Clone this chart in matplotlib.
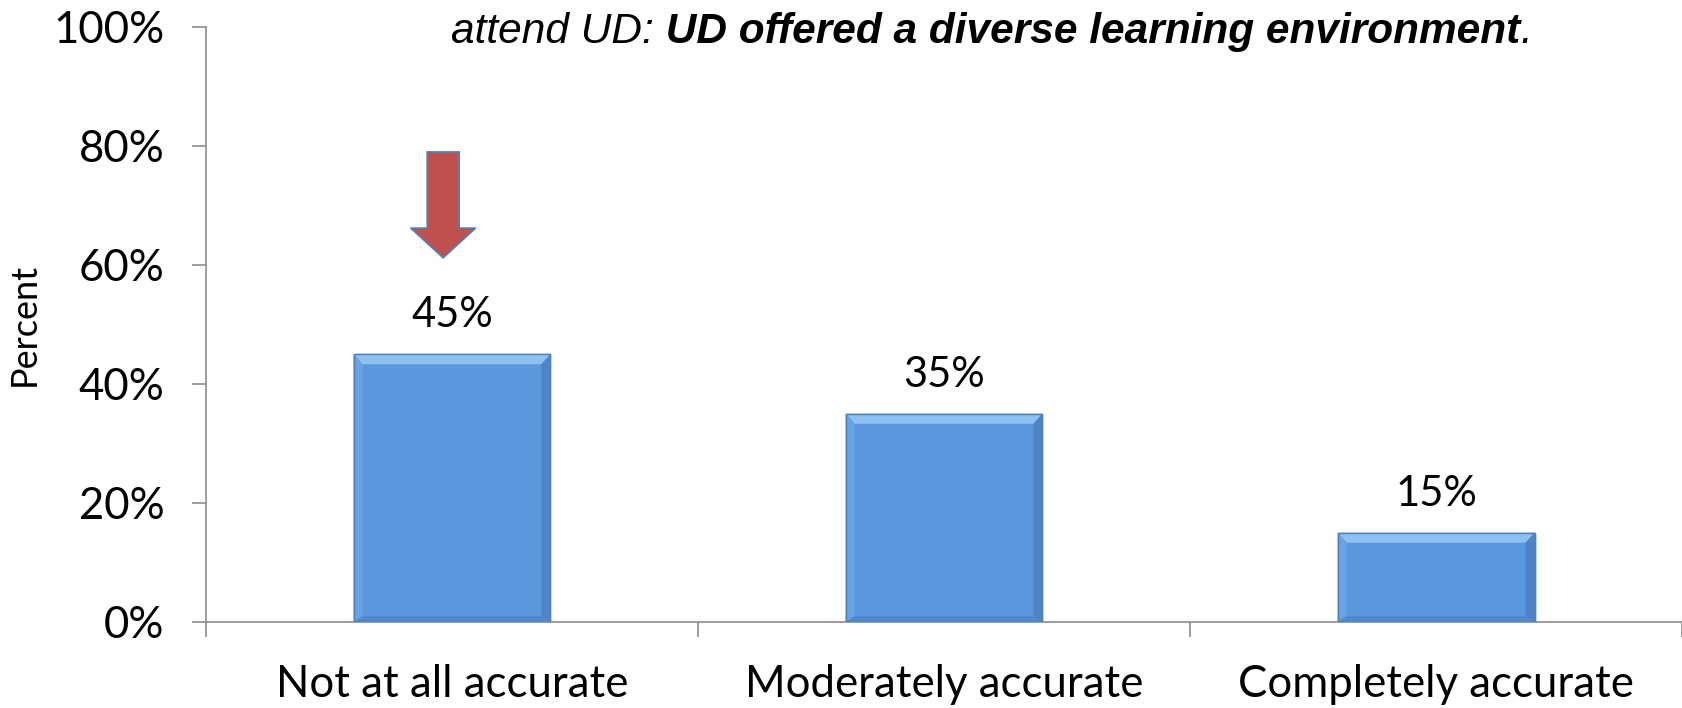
import matplotlib
matplotlib.use("Agg")
import matplotlib.pyplot as plt
from matplotlib.patches import FancyArrow, Polygon
from matplotlib.ticker import FixedLocator, PercentFormatter

categories = ["Not at all accurate", "Moderately accurate", "Completely accurate"]
percents = [45, 35, 15]
y_ticks = [0, 20, 40, 60, 80, 100]

TICK_FONT = "Lato"
BAR_COLOR = "#5B97DC"
AXIS_GRAY = "#8C8C8C"

fig = plt.figure(figsize=(16.83, 7.08), dpi=100)
ax = fig.add_axes([0.1224, 0.1215, 0.8771, 0.8404])

x = list(range(len(categories)))
bars = ax.bar(x, percents, width=0.40, color=BAR_COLOR,
              edgecolor="#4F7FB8", linewidth=1.0, zorder=2)

ax.set_xlim(-0.5, len(categories) - 0.5)
ax.set_ylim(0, 100)

# pixel size in data units, for the bevel look of the bars
p0 = ax.transData.transform((0, 0))
p1 = ax.transData.transform((1, 1))
px = 1.0 / (p1[0] - p0[0])
py = 1.0 / (p1[1] - p0[1])

for b in bars:
    x0, x1 = b.get_x(), b.get_x() + b.get_width()
    y0, y1 = 0, b.get_height()
    dx, dyt, dyb = 9 * px, 10 * py, 6 * py
    bevels = [
        ([(x0, y1), (x1, y1), (x1 - dx, y1 - dyt), (x0 + dx, y1 - dyt)], "#8FC0F2"),
        ([(x0, y0), (x0, y1), (x0 + dx, y1 - dyt), (x0 + dx, y0 + dyb)], "#6AA3E4"),
        ([(x1, y0), (x1, y1), (x1 - dx, y1 - dyt), (x1 - dx, y0 + dyb)], "#4D84C6"),
        ([(x0, y0), (x1, y0), (x1 - dx, y0 + dyb), (x0 + dx, y0 + dyb)], "#5089CC"),
    ]
    for pts, c in bevels:
        ax.add_patch(Polygon(pts, closed=True, facecolor=c, edgecolor="none",
                             zorder=3))
    ax.add_patch(Polygon([(x0, y0), (x0, y1), (x1, y1), (x1, y0)], closed=True,
                         facecolor="none", edgecolor="#4F7FB8", linewidth=1.0,
                         zorder=3))

for xi, v in zip(x, percents):
    ax.annotate(f"{v}%", (xi, v), xytext=(0, 28), textcoords="offset points",
                ha="center", va="center", fontsize=30, family=TICK_FONT)

ax.set_xticks(x)
ax.set_xticklabels(categories, fontsize=31.5, family=TICK_FONT)
ax.xaxis.set_minor_locator(FixedLocator([i - 0.5 for i in range(len(categories) + 1)]))
ax.tick_params(axis="x", which="major", length=0, pad=30)
ax.tick_params(axis="x", which="minor", length=11, color=AXIS_GRAY, width=1.2)

ax.set_yticks(y_ticks)
ax.yaxis.set_major_formatter(PercentFormatter(decimals=0))
ax.tick_params(axis="y", length=10, color=AXIS_GRAY, width=1.2, pad=20,
               labelsize=31.5)
for lab in ax.get_yticklabels():
    lab.set_family(TICK_FONT)

ax.set_ylabel("Percent", fontsize=26, family=TICK_FONT, labelpad=9)

for side in ["top", "right"]:
    ax.spines[side].set_visible(False)
for side in ["left", "bottom"]:
    ax.spines[side].set_color(AXIS_GRAY)
    ax.spines[side].set_linewidth(1.2)

# red arrow pointing at first bar
ax.add_patch(FancyArrow(-0.018, 79, 0, -17.8, width=0.065, head_width=0.132,
                        head_length=5.0, length_includes_head=True,
                        facecolor="#C0504D", edgecolor="#4F81BD",
                        linewidth=1.2, zorder=4))

# cut-off title line, mixed italic / bold italic
t1 = fig.text(0.268, 0.939, "attend UD:", fontsize=30.5, style="italic",
              family="Liberation Sans", va="baseline")
t2 = ax.annotate(" UD offered a diverse learning environment", xy=(1, 0),
                 xycoords=t1, va="bottom", ha="left", fontsize=30.5,
                 style="italic", weight="bold", family="Liberation Sans",
                 annotation_clip=False)
ax.annotate(".", xy=(1, 0), xycoords=t2, va="bottom", ha="left", fontsize=30.5,
            style="italic", family="Liberation Sans", annotation_clip=False)

fig.savefig("out.png", dpi=100)
